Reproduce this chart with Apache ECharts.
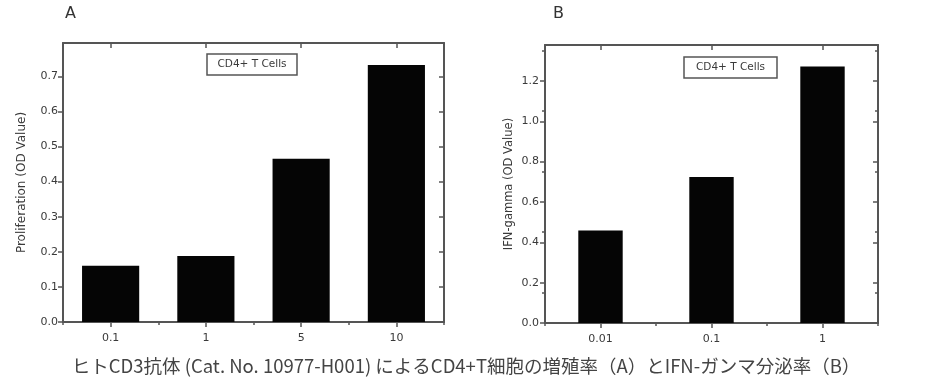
<!DOCTYPE html>
<html>
<head>
<meta charset="utf-8">
<script src="https://cdn.jsdelivr.net/npm/echarts@6/dist/echarts.min.js"></script>
<style>
html,body{margin:0;padding:0;background:#fff;}
#chart{width:934px;height:389px;}
</style>
</head>
<body>
<div id="chart"></div>
<script>
// ---- data ----
const catsA = ['0.1', '1', '5', '10'];
const valsA = [0.16, 0.188, 0.465, 0.732];
const ticksA = [0, 0.1, 0.2, 0.3, 0.4, 0.5, 0.6, 0.7];
const catsB = ['0.01', '0.1', '1'];
const valsB = [0.458, 0.724, 1.271];
const ticksB = [0, 0.2, 0.4, 0.6, 0.8, 1.0, 1.2];
const titleA = 'Proliferation (OD Value)';
const titleB = 'IFN-gamma (OD Value)';
const legendText = 'CD4+ T Cells';
const caption = 'ヒトCD3抗体 (Cat. No. 10977-H001) によるCD4+T細胞の増殖率（A）とIFN-ガンマ分泌率（B）';

const axisColor = '#555';
const textColor = '#3a3a3a';
const font = 'DejaVu Sans';

function xAxes(gi, cats, showLabel) {
  const base = {
    type: 'category', gridIndex: gi, data: cats,
    axisLine: {show: false},
    splitLine: {show: false}
  };
  return [
    Object.assign({}, base, {
      position: 'bottom',
      axisLine: {show: true, onZero: false, lineStyle: {color: axisColor, width: 2}},
      axisTick: {show: true, alignWithLabel: true, length: 5, inside: false, lineStyle: {color: axisColor, width: 1.5}},
      axisLabel: {show: showLabel, color: textColor, fontFamily: font, fontSize: 11, margin: 11}
    }),
    Object.assign({}, base, {
      position: 'bottom',
      axisTick: {show: true, alignWithLabel: false, length: 3, inside: false, lineStyle: {color: axisColor, width: 1.5}},
      axisLabel: {show: false}
    }),
    Object.assign({}, base, {
      position: 'top',
      axisLine: {show: true, onZero: false, lineStyle: {color: axisColor, width: 2}},
      axisTick: {show: true, alignWithLabel: true, length: 5, inside: true, lineStyle: {color: axisColor, width: 1.5}},
      axisLabel: {show: false}
    }),
    Object.assign({}, base, {
      position: 'top',
      axisTick: {show: true, alignWithLabel: false, length: 3, inside: true, lineStyle: {color: axisColor, width: 1.5}},
      axisLabel: {show: false}
    })
  ];
}

function yAxes(gi, max, ticks, name, nameGap, labelMargin, nameSize) {
  return [
    {
      type: 'value', gridIndex: gi, position: 'left', min: 0, max: max,
      name: name, nameLocation: 'middle', nameRotate: 90, nameGap: nameGap,
      nameTextStyle: {color: textColor, fontFamily: font, fontSize: nameSize},
      axisLine: {show: true, onZero: false, lineStyle: {color: axisColor, width: 2}},
      axisTick: {show: true, inside: false, length: 5, customValues: ticks, lineStyle: {color: axisColor, width: 1.5}},
      minorTick: {show: true, splitNumber: 2, length: 3, lineStyle: {color: axisColor, width: 1.5}},
      axisLabel: {show: true, customValues: ticks, color: textColor, fontFamily: font, fontSize: 11, margin: labelMargin,
        formatter: v => v.toFixed(1)},
      splitLine: {show: false}
    },
    {
      type: 'value', gridIndex: gi, position: 'right', min: 0, max: max,
      axisLine: {show: true, onZero: false, lineStyle: {color: axisColor, width: 2}},
      axisTick: {show: true, inside: true, length: 5, customValues: ticks, lineStyle: {color: axisColor, width: 1.5}},
      minorTick: {show: true, splitNumber: 2, length: 3, lineStyle: {color: axisColor, width: 1.5}},
      axisLabel: {show: false},
      splitLine: {show: false}
    }
  ];
}

const chart = echarts.init(document.getElementById('chart'), null, {renderer: 'canvas'});

const option = {
  animation: false,
  backgroundColor: '#fff',
  grid: [
    {left: 63, top: 43, width: 381, height: 279, containLabel: false},
    {left: 545, top: 45, width: 333, height: 278, containLabel: false}
  ],
  xAxis: [].concat(xAxes(0, catsA, true), xAxes(1, catsB, true)),
  yAxis: [].concat(yAxes(0, 0.795, ticksA, titleA, 35, 5, 12), yAxes(1, 1.378, ticksB, titleB, 30, 6, 11.5)),
  series: [
    {type: 'bar', xAxisIndex: 0, yAxisIndex: 0, data: valsA, barWidth: '60%',
      itemStyle: {color: '#050505'}, silent: true},
    {type: 'bar', xAxisIndex: 4, yAxisIndex: 2, data: valsB, barWidth: '40%',
      itemStyle: {color: '#050505'}, silent: true}
  ],
  graphic: [
    {type: 'text', left: 65, top: 6, style: {text: 'A', fill: '#333', font: '16px "DejaVu Sans"'}},
    {type: 'text', left: 553, top: 6, style: {text: 'B', fill: '#333', font: '16px "DejaVu Sans"'}},
    {type: 'rect', shape: {x: 207, y: 54, width: 90, height: 21},
      style: {fill: '#fff', stroke: '#555', lineWidth: 1.5}},
    {type: 'text', x: 252, y: 64.5, style: {text: legendText, fill: textColor, font: '10.5px "DejaVu Sans"', align: 'center', verticalAlign: 'middle'}},
    {type: 'rect', shape: {x: 684, y: 57, width: 93, height: 21},
      style: {fill: '#fff', stroke: '#555', lineWidth: 1.5}},
    {type: 'text', x: 730.5, y: 67.5, style: {text: legendText, fill: textColor, font: '10.5px "DejaVu Sans"', align: 'center', verticalAlign: 'middle'}},
    {type: 'text', x: 466, y: 366, style: {text: caption, fill: '#444', font: '18.5px "Noto Sans CJK JP"', align: 'center', verticalAlign: 'middle'}}
  ]
};
chart.setOption(option);
</script>
</body>
</html>
